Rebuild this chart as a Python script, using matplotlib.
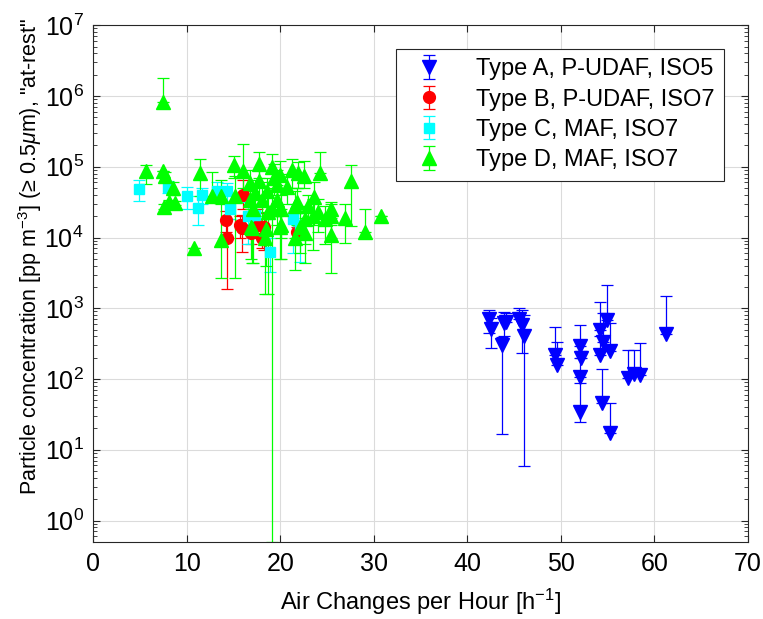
import numpy as np
import matplotlib
matplotlib.use("Agg")
import matplotlib.pyplot as plt

FS = 17  # fontsize for plots
plt.rcParams['font.family'] = ['Liberation Sans', 'DejaVu Sans']
plt.rcParams['mathtext.fontset'] = 'custom'
plt.rcParams['mathtext.rm'] = 'Liberation Sans'
plt.rcParams['mathtext.it'] = 'Liberation Sans:italic'

# Type A, P-UDAF, ISO5 : ACH, concentration, lower end, upper end
a_ach = [42.3, 42.5, 43.9, 43.7, 44.1, 45.5, 45.8, 46.1, 49.4, 49.6, 52.0, 52.1, 52.0,
         52.0, 54.2, 54.5, 54.2, 54.9, 55.3, 54.4, 55.3, 57.2, 57.8, 58.5, 61.2]
a_conc = [705, 505, 617, 303, 633, 705, 585, 410, 219, 158, 294, 196, 108,
          34.5, 495, 337, 219, 690, 251, 45.6, 17, 102, 118, 115, 436]
a_lo = [450, 272, 410, 16.6, 633, 705, 232, 5.8, 219, 158, 294, 196, 108,
        24.5, 495, 337, 219, 690, 251, 45.6, 17, 102, 118, 115, 436]
a_hi = [960, 738, 895, 390, 851, 1000, 930, 814, 540, 331, 572, 250, 200,
        89, 1240, 870, 400, 2140, 612, 138, 46, 258, 258, 322, 1470]

# Type B, P-UDAF, ISO7
b_ach = [16.0, 14.2, 14.3, 15.7, 15.9, 16.9, 18.2, 18.0, 21.8, 17.5]
b_conc = [4.0e4, 1.77e4, 9.8e3, 1.5e4, 1.35e4, 1.15e4, 1.4e4, 9.8e3, 1.2e4, 1.5e4]
b_lo = [2.5e4, 1.2e4, 1.9e3, 1.0e4, 6.2e3, 8e3, 6.6e3, 7e3, 1.0e4, 1.0e4]
b_hi = [6.5e4, 2.4e4, 1.8e4, 2.0e4, 2.1e4, 1.5e4, 2.2e4, 1.3e4, 1.4e4, 2.5e4]

# Type C, MAF, ISO7
c_ach = [4.9, 8.0, 10.0, 11.2, 11.6, 13.2, 14.3, 14.6, 18.9, 17.3, 22.1, 16.5, 21.4]
c_conc = [4.8e4, 5.2e4, 3.9e4, 2.6e4, 4.0e4, 4.5e4, 4.6e4, 2.5e4, 6.3e3, 2.1e4, 1.5e4, 2.0e4, 1.8e4]
c_lo = [3.3e4, 4.2e4, 2.5e4, 1.5e4, 3.0e4, 3.5e4, 3.0e4, 1.8e4, 3.3e3, 1.4e4, 4.5e3, 8e3, 6e3]
c_hi = [6.4e4, 6.2e4, 5.2e4, 3.8e4, 5.0e4, 6.0e4, 5.8e4, 3.3e4, 1.0e4, 2.8e4, 2.3e4, 3.2e4, 3.0e4]

# Type D, MAF, ISO7
d_ach = [7.4, 5.6, 7.5, 7.7, 8.5, 7.6, 8.1, 8.7, 10.8, 11.4, 12.7, 13.7, 13.6, 15.0,
         15.2, 16.0, 17.7, 19.1, 16.8, 17.7, 19.3, 20.0, 20.7, 16.8, 18.0, 19.6, 17.1,
         18.7, 20.1, 16.9, 18.5, 20.1, 21.6, 22.6, 21.8, 21.9, 24.2, 27.5, 23.6, 21.6,
         25.4, 25.4, 26.9, 30.8, 29.0, 23.5, 22.6, 24.8, 25.4, 19.1, 18.4, 17.0, 20.0,
         21.2, 22.5, 22.1, 23.0, 24.0, 19.6, 18.6, 17.3]
d_conc = [8.1e5, 8.6e4, 8.6e4, 7.3e4, 5.0e4, 2.7e4, 3.2e4, 3.1e4, 7.1e3, 8.1e4, 3.8e4, 3.8e4, 9.3e3, 1.07e5,
          3.8e4, 8.6e4, 1.1e5, 1.0e5, 5.8e4, 6.2e4, 6.9e4, 7.6e4, 5.2e4, 3.4e4, 3.4e4, 3.4e4, 2.5e4,
          2.3e4, 2.5e4, 1.4e4, 1.3e4, 1.5e4, 9.8e3, 1.15e4, 3.2e4, 8.1e4, 8.1e4, 6.2e4, 3.7e4, 2.8e4,
          2.5e4, 2.0e4, 1.9e4, 2.0e4, 1.18e4, 2.0e4, 1.8e4, 1.8e4, 1.1e4, 2.5e4, 9.8e3, 1.35e4, 1.4e4,
          9.0e4, 7.5e4, 1.4e4, 2.8e4, 2.3e4, 5.5e4, 4.5e4, 4.2e4]
d_lo = [8.1e5, 5.7e4, 8.6e4, 6.0e4, 4.0e4, 2.5e4, 3.0e4, 2.9e4, 7.1e3, 3.8e4, 3.8e4, 3.0e4, 2.7e3, 7e4,
        2.7e3, 5e4, 7e4, 6e4, 3e4, 4e4, 4e4, 5e4, 3e4, 1.5e4, 1.0e4, 1.5e4, 4.4e3,
        1.6e3, 1e4, 5e3, 4e3, 4.9e3, 3.5e3, 4.3e3, 1.5e4, 5e4, 8.1e4, 1.45e4, 1.5e4, 1e4,
        1.5e4, 1.0e4, 8.3e3, 2.0e4, 1.18e4, 6.6e3, 8e3, 8e3, 3.2e3, 0.5, 1.6e3, 4.4e3, 4.9e3,
        5e4, 5e4, 6e3, 1.5e4, 1.2e4, 2e4, 2e4, 2e4]
d_hi = [1.8e6, 1.07e5, 8.6e4, 8.5e4, 6.0e4, 3.0e4, 3.4e4, 3.3e4, 7.1e3, 1.3e5, 8.3e4, 4.6e4, 6.5e4, 1.4e5,
        7.5e4, 2.1e5, 1.6e5, 1.5e5, 9e4, 9e4, 1.1e5, 1.2e5, 8e4, 5e4, 6e4, 5.5e4, 4.5e4,
        4.5e4, 4e4, 2.5e4, 2.3e4, 2.5e4, 1.6e4, 1.9e4, 5e4, 1.15e5, 1.6e5, 1.07e5, 6.1e4, 4.5e4,
        3.2e4, 3.0e4, 3.0e4, 2.0e4, 2.5e4, 3.5e4, 2.8e4, 2.8e4, 1.9e4, 5.0e4, 1.8e4, 2.3e4, 2.3e4,
        1.3e5, 1.2e5, 2.2e4, 4e4, 3.5e4, 9e4, 7e4, 6.5e4]

series = [
    (a_ach, a_conc, a_lo, a_hi, '#0000ff', 'v', 9.5, 'Type A, P-UDAF, ISO5'),
    (b_ach, b_conc, b_lo, b_hi, '#ff0000', 'o', 8.5, 'Type B, P-UDAF, ISO7'),
    (c_ach, c_conc, c_lo, c_hi, '#00ffff', 's', 7, 'Type C, MAF, ISO7'),
    (d_ach, d_conc, d_lo, d_hi, '#00ff00', '^', 10, 'Type D, MAF, ISO7'),
]

fig = plt.figure(figsize=(7.63, 6.19), dpi=100)
ax = fig.add_axes([0.1223, 0.1247, 0.858, 0.8345])

for x, y, lo, hi, col, mk, ms, lab in series:
    y = np.array(y)
    yerr = [y - np.array(lo), np.array(hi) - y]
    ax.errorbar(x, y, yerr=yerr, fmt=mk, color=col, ecolor=col, ms=ms,
                elinewidth=0.9, capsize=4, capthick=0.9, label=lab)

ax.set_yscale('log')
ax.set_xlim(0, 70)
ax.set_ylim(0.5, 1e7)
ax.set_yticks([10.0**k for k in range(0, 8)])
ax.set_xticks(np.arange(0, 71, 10))
ax.grid(True, which='major', color='0.86', linewidth=0.8)
ax.set_axisbelow(True)
ax.tick_params(which='both', direction='in', top=True, right=True, labelsize=FS+1,
               colors='0.15', labelcolor='black', pad=7)
ax.tick_params(which='major', length=5)
ax.tick_params(which='minor', length=3)
for s in ax.spines.values():
    s.set_color('0.15')
    s.set_linewidth(0.8)

ax.set_xlabel(r"Air Changes per Hour [h$^{-1}$]", fontsize=FS, labelpad=8)
ax.set_ylabel(r'Particle concentration [pp m$^{-3}$] (≥ 0.5$\mathit{\mu}$m), "at-rest"', fontsize=FS-1.5)
ax.yaxis.set_label_coords(-0.076, 0.553)

leg = ax.legend(loc='upper right', fontsize=FS, fancybox=False, framealpha=1,
                edgecolor='0.15', borderaxespad=1.0, handletextpad=1.0, labelspacing=0.35,
                borderpad=0.4)
leg.get_frame().set_linewidth(0.8)

plt.savefig("out.png", dpi=100)
